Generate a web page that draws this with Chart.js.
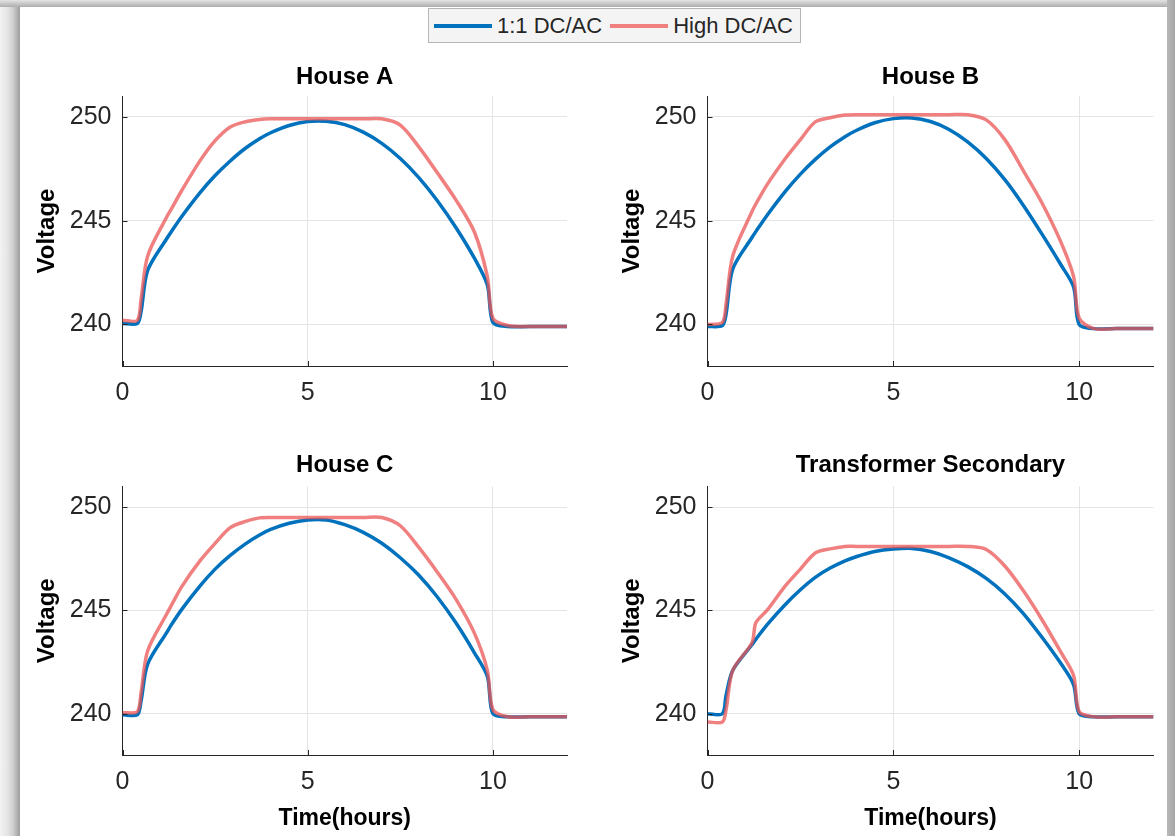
<!DOCTYPE html>
<html>
<head>
<meta charset="utf-8">
<title>Voltage profiles</title>
<script src="https://cdn.jsdelivr.net/npm/chart.js@4.4.1/dist/chart.umd.min.js"></script>
<style>
  html, body { margin: 0; padding: 0; background: #fff; }
  #fig { position: relative; width: 1175px; height: 836px; overflow: hidden; background: #fff; }
  .shade-left { position: absolute; left: 0; top: 0; width: 20px; height: 836px;
    background: linear-gradient(to right, #f3f3f3, #e6e6e6 35%, #cfcfcf 65%, #b2b2b2 85%, #9c9c9c); }
  .shade-top { position: absolute; left: 0; top: 0; width: 1175px; height: 7px;
    background: linear-gradient(to bottom, #e4e4e4, #c8c8c8 50%, #adadad); }
  .shade-right { position: absolute; left: 1167px; top: 0; width: 8px; height: 836px;
    background: linear-gradient(to right, #b8b8b8, #a6a6a6); }
  canvas { position: absolute; }
  .legend { position: absolute; left: 428px; top: 8px; width: 373px; height: 35px;
    background: #f4f4f4; border: 1px solid #b5b5b5; box-sizing: border-box;
    font-family: Arial, "Liberation Sans", Helvetica, sans-serif; font-size: 22px; color: #262626;
    display: flex; align-items: center; padding-left: 5px; white-space: nowrap; }
  .legend .swatch { display: inline-block; width: 58px; height: 4px; margin-right: 5px; }
  .legend .item { display: flex; align-items: center; margin-right: 8px; }
</style>
</head>
<body>
<div id="fig">
  <div class="shade-left"></div>
  <div class="shade-top"></div>
  <div class="shade-right"></div>
  <div class="legend">
    <span class="item"><span class="swatch" style="background:#0072BD"></span>1:1 DC/AC</span>
    <span class="item"><span class="swatch" style="background:#F08080"></span>High DC/AC</span>
  </div>
  <canvas id="houseA" width="575" height="385" style="left:20px;top:50px"></canvas>
  <canvas id="houseB" width="575" height="385" style="left:605px;top:50px"></canvas>
  <canvas id="houseC" width="575" height="396" style="left:20px;top:440px"></canvas>
  <canvas id="xfmr" width="575" height="396" style="left:605px;top:440px"></canvas>
</div>
<script>
// time axis (hours) shared by every trace
const hours = [0, 0.4, 0.5, 0.68, 1.2, 1.3, 1.6, 2.1, 2.5, 2.9, 3.3, 3.7, 4.0, 4.5, 5.0,
               5.5, 6.0, 6.5, 7.0, 7.5, 8.0, 8.5, 9.0, 9.5, 9.85, 10.0, 10.4, 11, 12];

const houseA_base = [240.05, 240.05, 240.6, 242.6, 244.15, 244.42, 245.2, 246.36, 247.17, 247.86, 248.46, 248.94, 249.23, 249.58, 249.77,
                     249.78, 249.62, 249.26, 248.72, 247.99, 247.07, 245.96, 244.67, 243.19, 241.9, 240.1, 239.9, 239.9, 239.9];
const houseA_high = [240.2, 240.2, 241.2, 243.3, 245.2, 245.5, 246.45, 247.9, 248.85, 249.5, 249.75, 249.87, 249.9, 249.9, 249.9,
                     249.9, 249.9, 249.9, 249.9, 249.6, 248.55, 247.3, 246.0, 244.45, 242.3, 240.3, 239.95, 239.9, 239.9];

const houseB_base = [239.9, 239.95, 240.5, 242.67, 244.2, 244.47, 245.25, 246.42, 247.24, 247.95, 248.55, 249.04, 249.34, 249.71, 249.91,
                     249.94, 249.77, 249.39, 248.79, 247.99, 246.97, 245.73, 244.35, 242.9, 241.8, 240.0, 239.8, 239.8, 239.8];
const houseB_high = [240.0, 240.1, 241.0, 243.3, 245.45, 245.8, 246.72, 248.0, 248.9, 249.75, 249.95, 250.08, 250.1, 250.1, 250.1,
                     250.1, 250.1, 250.1, 250.1, 249.85, 248.9, 247.4, 245.85, 244.0, 242.3, 240.3, 239.8, 239.8, 239.8];

const houseC_base = [239.95, 239.95, 240.6, 242.4, 243.95, 244.25, 245.05, 246.2, 247.0, 247.65, 248.2, 248.65, 248.92, 249.22, 249.38,
                     249.38, 249.15, 248.78, 248.25, 247.55, 246.7, 245.65, 244.4, 242.95, 241.8, 240.0, 239.85, 239.85, 239.85];
const houseC_high = [240.05, 240.1, 241.0, 243.05, 244.85, 245.18, 246.15, 247.42, 248.25, 249.0, 249.3, 249.48, 249.5, 249.5, 249.5,
                     249.5, 249.5, 249.5, 249.5, 249.1, 248.05, 246.85, 245.55, 243.9, 242.1, 240.2, 239.85, 239.85, 239.85];

const xfmr_base = [240.0, 240.0, 240.9, 242.1, 243.35, 243.6, 244.3, 245.3, 246.0, 246.6, 247.05, 247.4, 247.6, 247.85, 247.97,
                   248.0, 247.85, 247.55, 247.12, 246.55, 245.8, 244.85, 243.7, 242.45, 241.4, 240.0, 239.85, 239.85, 239.85];
const xfmr_high = [239.6, 239.6, 240.2, 242.1, 243.45, 244.4, 245.0, 246.2, 247.0, 247.78, 247.98, 248.1, 248.1, 248.1, 248.1,
                   248.1, 248.1, 248.1, 248.1, 247.95, 247.15, 245.95, 244.55, 243.0, 241.85, 240.1, 239.85, 239.85, 239.85];

const seriesNames = ['1:1 DC/AC', 'High DC/AC'];
const xTicks = [0, 5, 10];
const yTicks = [240, 245, 250];

const FONT = 'Arial, "Liberation Sans", Helvetica, sans-serif';
const AXIS_COLOR = '#262626';
const GRID_COLOR = '#e4e4e4';

// short tick marks pointing into the plot area
const innerTicks = {
    id: 'innerTicks',
    afterDraw(chart) {
        const { ctx, chartArea, scales } = chart;
        ctx.save();
        ctx.strokeStyle = AXIS_COLOR;
        ctx.lineWidth = 1;
        ctx.beginPath();
        scales.x.ticks.forEach(t => {
            const px = Math.round(scales.x.getPixelForValue(t.value)) + 0.5;
            ctx.moveTo(px, chartArea.bottom);
            ctx.lineTo(px, chartArea.bottom - 5);
        });
        scales.y.ticks.forEach(t => {
            const py = Math.round(scales.y.getPixelForValue(t.value)) + 0.5;
            ctx.moveTo(chartArea.left, py);
            ctx.lineTo(chartArea.left + 5, py);
        });
        ctx.stroke();
        ctx.restore();
    }
};

function toPoints(values) {
    return values.map((v, i) => ({ x: hours[i], y: v }));
}

function makePanel(id, title, base, high, cfg) {
    const ctx = document.getElementById(id).getContext('2d');
    return new Chart(ctx, {
        type: 'line',
        data: {
            datasets: [{
                label: seriesNames[0],
                data: toPoints(base),
                borderColor: '#0072BD',
                borderWidth: 3.5,
                borderJoinStyle: 'round',
                pointRadius: 0,
                tension: 0.3,
                order: 1
            }, {
                label: seriesNames[1],
                data: toPoints(high),
                borderColor: 'rgba(235, 85, 85, 0.75)',
                borderWidth: 3.5,
                borderJoinStyle: 'round',
                pointRadius: 0,
                tension: 0.3,
                order: 0
            }]
        },
        options: {
            responsive: false,
            animation: false,
            events: [],
            layout: { padding: { left: 0, right: cfg.padRight, top: 0, bottom: 0 } },
            plugins: {
                legend: { display: false },
                tooltip: { enabled: false },
                title: {
                    display: true,
                    text: title,
                    fullSize: false,
                    color: '#000',
                    font: { family: FONT, size: 24, weight: 'bold', lineHeight: 1.2 },
                    padding: { top: cfg.titleTop, bottom: cfg.titleBottom }
                }
            },
            scales: {
                x: {
                    type: 'linear',
                    min: 0,
                    max: 12,
                    afterBuildTicks: s => { s.ticks = xTicks.map(v => ({ value: v })); },
                    afterFit: s => { s.height = cfg.xHeight; },
                    grid: { color: GRID_COLOR, drawTicks: false },
                    border: { color: AXIS_COLOR, width: 1 },
                    ticks: { color: AXIS_COLOR, padding: 12, maxRotation: 0, font: { family: FONT, size: 25 } },
                    title: {
                        display: cfg.xTitle,
                        text: 'Time(hours)',
                        color: '#000',
                        font: { family: FONT, size: 23, weight: 'bold', lineHeight: 1.2 },
                        padding: { top: 0, bottom: 4 }
                    }
                },
                y: {
                    type: 'linear',
                    min: 238,
                    max: 251,
                    afterBuildTicks: s => { s.ticks = yTicks.map(v => ({ value: v })); },
                    afterFit: s => { s.width = 102.5; },
                    grid: { color: GRID_COLOR, drawTicks: false },
                    border: { color: AXIS_COLOR, width: 1 },
                    ticks: { color: AXIS_COLOR, padding: 11, font: { family: FONT, size: 25 } },
                    title: {
                        display: true,
                        text: 'Voltage',
                        color: '#000',
                        font: { family: FONT, size: 24, weight: 'bold', lineHeight: 1.2 },
                        padding: { top: 12.5, bottom: 0 }
                    }
                }
            }
        },
        plugins: [innerTicks]
    });
}

makePanel('houseA', 'House A', houseA_base, houseA_high,
    { padRight: 28, titleTop: 13, titleBottom: 4.2, xHeight: 69, xTitle: false });
makePanel('houseB', 'House B', houseB_base, houseB_high,
    { padRight: 26.5, titleTop: 13, titleBottom: 4.2, xHeight: 69, xTitle: false });
makePanel('houseC', 'House C', houseC_base, houseC_high,
    { padRight: 28, titleTop: 11, titleBottom: 6.7, xHeight: 81, xTitle: true });
makePanel('xfmr', 'Transformer Secondary', xfmr_base, xfmr_high,
    { padRight: 26.5, titleTop: 11, titleBottom: 6.7, xHeight: 81, xTitle: true });
</script>
</body>
</html>
